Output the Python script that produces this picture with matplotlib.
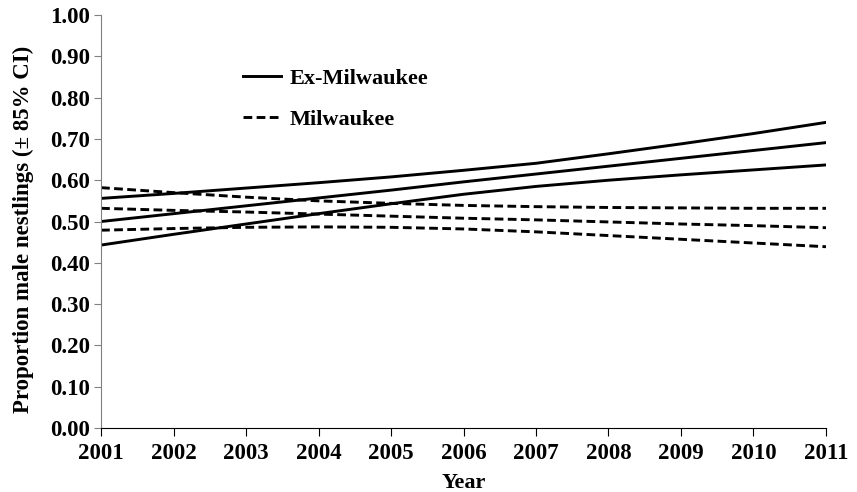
import matplotlib
matplotlib.use("Agg")
from matplotlib import pyplot as plt

# values (proportion male nestlings)
years = [2001, 2002, 2003, 2004, 2005, 2006, 2007, 2008, 2009, 2010, 2011]

ex_mean = [0.500, 0.519, 0.538, 0.557, 0.576, 0.596, 0.615, 0.634, 0.653, 0.672, 0.691]
ex_upper = [0.556, 0.568, 0.581, 0.594, 0.608, 0.624, 0.641, 0.664, 0.688, 0.713, 0.740]
ex_lower = [0.443, 0.469, 0.494, 0.519, 0.543, 0.566, 0.585, 0.600, 0.613, 0.625, 0.637]

mil_mean = [0.532, 0.527, 0.523, 0.518, 0.513, 0.508, 0.504, 0.499, 0.494, 0.490, 0.485]
mil_upper = [0.582, 0.570, 0.559, 0.550, 0.544, 0.539, 0.536, 0.534, 0.533, 0.532, 0.532]
mil_lower = [0.479, 0.483, 0.486, 0.487, 0.486, 0.482, 0.475, 0.466, 0.457, 0.448, 0.439]

yticks = [0.0, 0.1, 0.2, 0.3, 0.4, 0.5, 0.6, 0.7, 0.8, 0.9, 1.0]

plt.rcParams['font.family'] = ['Liberation Serif', 'DejaVu Serif']
plt.rcParams['font.weight'] = 'bold'

fig = plt.figure(figsize=(8.57, 4.92), dpi=100)
ax = fig.add_axes([0.1179, 0.130, 0.8459, 0.8395])

lw = 2.1
dash = (3, 1.5)
ax.plot(years, ex_mean, color='black', lw=lw, label='Ex-Milwaukee')
ax.plot(years, ex_upper, color='black', lw=lw)
ax.plot(years, ex_lower, color='black', lw=lw)
ax.plot(years, mil_mean, color='black', lw=lw, dashes=dash, label='Milwaukee')
ax.plot(years, mil_upper, color='black', lw=lw, dashes=dash)
ax.plot(years, mil_lower, color='black', lw=lw, dashes=dash)

ax.set_xlim(2001, 2011)
ax.set_ylim(0, 1)
ax.set_xticks(years)
ax.set_yticks(yticks)
ax.set_yticklabels([f"{v:.2f}" for v in yticks])

for s in ['top', 'right']:
    ax.spines[s].set_visible(False)
ax.spines['left'].set_color('#808080')
ax.spines['bottom'].set_color('black')
ax.tick_params(axis='y', direction='out', length=5, colors='#808080', labelcolor='black', labelsize=16.5, pad=3)
ax.tick_params(axis='x', direction='out', length=6, colors='black', labelsize=16.5, pad=5)

ax.set_xlabel('Year', fontsize=16, fontweight='bold', labelpad=6)
ax.set_ylabel('Proportion male nestlings (± 85% CI)', fontsize=16.5, fontweight='bold')
ax.yaxis.set_label_coords(-0.093, 0.482)

ax.legend(loc='upper left', bbox_to_anchor=(0.196, 0.870), frameon=False,
          borderaxespad=0, borderpad=0,
          fontsize=16, handlelength=1.7, labelspacing=0.9, handletextpad=0.4)

fig.savefig('out.png', dpi=100)
